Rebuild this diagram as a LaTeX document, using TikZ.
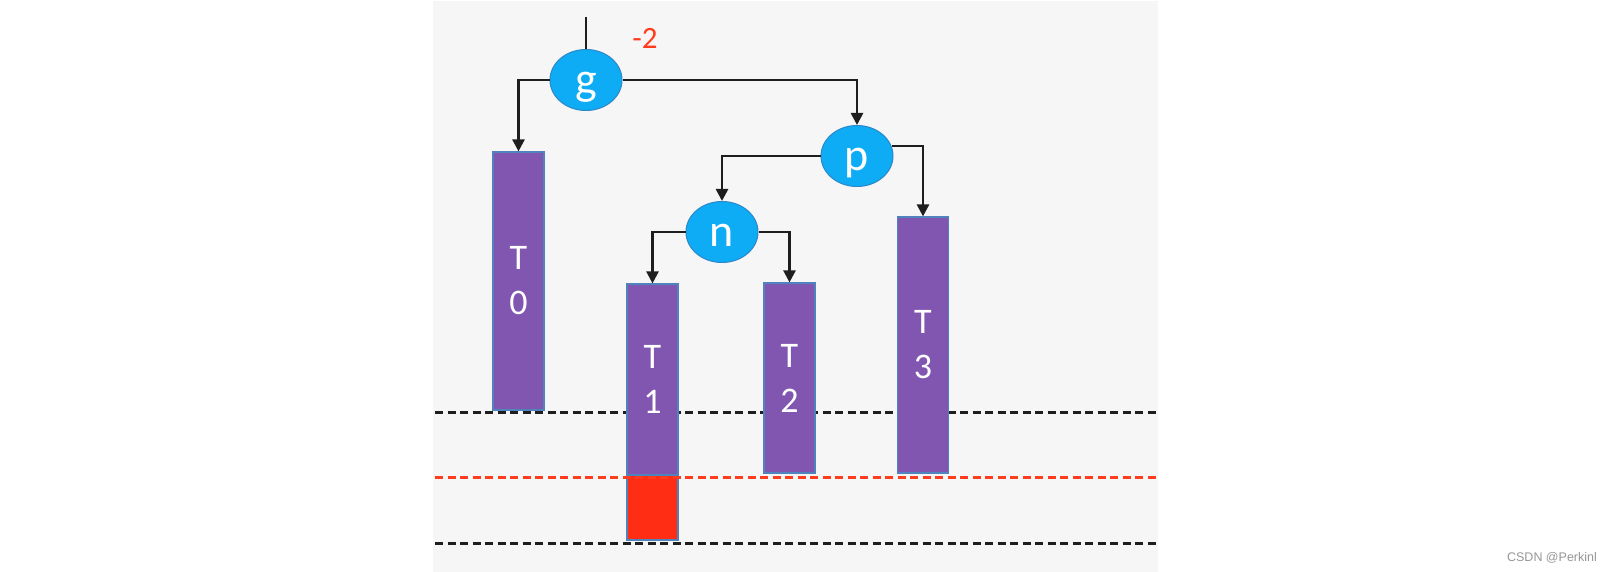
\documentclass[tikz,border=0pt]{standalone}
\usepackage{fontspec}
\setmainfont{Carlito}
\newfontfamily\wmfont{Liberation Sans}
\usetikzlibrary{arrows.meta,shapes.geometric}
\definecolor{panelgray}{RGB}{246,246,246}
\definecolor{nodeblue}{RGB}{14,172,245}
\definecolor{nodeedge}{RGB}{45,135,200}
\definecolor{barpurple}{RGB}{129,86,176}
\definecolor{baredge}{RGB}{80,130,190}
\definecolor{hotred}{RGB}{255,45,20}
\definecolor{dashred}{RGB}{255,60,30}
\definecolor{linedark}{RGB}{30,30,30}
\begin{document}
\begin{tikzpicture}[x=1pt,y=-1pt,
  treenode/.style={ellipse,fill=nodeblue,draw=nodeedge,line width=1pt,minimum width=72pt,minimum height=61pt,inner sep=0pt,text height=30pt,text depth=0pt,text=white,font=\fontsize{46}{50}\selectfont},
  bar/.style={rectangle,fill=barpurple,draw=baredge,line width=1.2pt,minimum width=51pt,inner sep=0pt,text=white,align=center,font=\fontsize{36}{45}\selectfont},
  redbox/.style={rectangle,fill=hotred,draw=baredge,line width=1.2pt,minimum width=51pt,minimum height=65pt,inner sep=0pt},
  conn/.style={draw=linedark,line width=2.6pt,-{Triangle[width=12pt,length=12pt]}},
  blackdash/.style={draw=linedark,line width=3pt,dash pattern=on 8pt off 4.5pt},
  reddash/.style={draw=dashred,line width=3pt,dash pattern=on 8pt off 4.5pt}
]
\useasboundingbox (0,0) rectangle (1610,572);
\fill[white] (0,0) rectangle (1610,572);
\fill[panelgray] (433,1) rectangle (1158,572);

% dashed level lines (upper one behind the bars)
\coordinate (l1a) at (435,412); \coordinate (l1b) at (1158,412);
\coordinate (l2a) at (435,477); \coordinate (l2b) at (1158,477);
\coordinate (l3a) at (435,543); \coordinate (l3b) at (1158,543);
\draw[blackdash] (l1a) -- (l1b);

% bars
\node[bar,minimum height=258pt] (T0) at (518.5,281) {T\\0};
\node[bar,minimum height=191pt] (T1) at (652.5,379.5) {T\\1};
\node[redbox] (R1) at (652.5,507.5) {};
\node[bar,minimum height=190pt] (T2) at (789.5,378) {T\\2};
\node[bar,minimum height=256pt] (T3) at (923,345) {T\\3};

\draw[reddash] (l2a) -- (l2b);
\draw[blackdash] (l3a) -- (l3b);

% tree nodes
\node[treenode] (g) at (586,80) {g};
\node[treenode] (p) at (857,156) {p};
\node[treenode] (n) at (722,232) {n};

\coordinate (top) at (586,17);
\draw[draw=linedark,line width=2.6pt] (top) -- (g.north);
\node[text=dashred,font=\fontsize{31}{33}\selectfont] (bf) at (645,38) {-2};

\draw[conn] (g.west) -| (T0.north);
\draw[conn] (g.east) -| (p.north);
\draw[conn] (p.west) -| (n.north);
\draw[conn] (p.16) -| (T3.north);
\draw[conn] (n.west) -| (T1.north);
\draw[conn] (n.east) -| (T2.north);

\node[text={rgb,255:red,150;green,150;blue,150},font=\wmfont\fontsize{12.5}{14}\selectfont] (wm) at (1552,558) {CSDN @Perkinl};
\end{tikzpicture}
\end{document}
